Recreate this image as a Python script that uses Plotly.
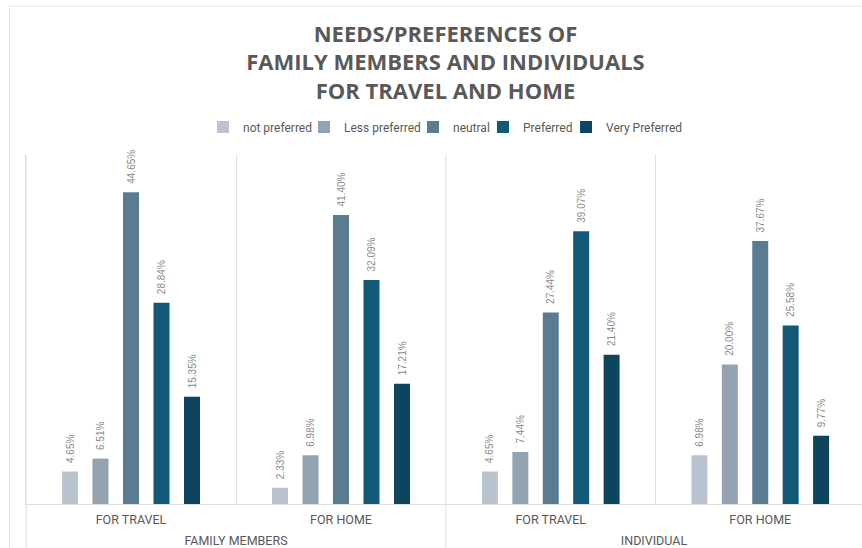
import plotly.graph_objects as go

# Survey results: share of respondents (%) per preference level
groups = ["FAMILY MEMBERS", "INDIVIDUAL"]
contexts = ["FOR TRAVEL", "FOR HOME"]

levels = ["not preferred", "Less preferred", "neutral", "Preferred", "Very Preferred"]
# values per level: [family-travel, family-home, individual-travel, individual-home]
not_preferred = [4.65, 2.33, 4.65, 6.98]
less_preferred = [6.51, 6.98, 7.44, 20.00]
neutral = [44.65, 41.40, 27.44, 37.67]
preferred = [28.84, 32.09, 39.07, 25.58]
very_preferred = [15.35, 17.21, 21.40, 9.77]

series = [not_preferred, less_preferred, neutral, preferred, very_preferred]
colors = ["#b8c4cf", "#94a3b1", "#5a7c91", "#115977", "#0e455e"]
# legend entry widths (px) so the entries sit close together
legend_widths = [56, 64, 25, 38, 80]

# Layout geometry (pixels)
W, H = 862, 548
ML, MR, MT, MB = 26, 0, 155, 44
plot_w = W - ML - MR
plot_h = H - MT - MB
split_px = 446          # boundary between the two groups
unit_left = 210.0       # category slot width, left group
unit_right = 209.5      # category slot width, right group

def px_x(p):
    return (p - ML) / plot_w

def px_y(p):
    return (H - MB - p) / plot_h

split = px_x(split_px)

# value labels sit a little above the bar tops
label_pad = "\u00a0\u00a0"

fig = go.Figure()
axes_ids = ["x", "x2"]
for g, (grp, ax) in enumerate(zip(groups, axes_ids)):
    for name, vals, col, lw in zip(levels, series, colors, legend_widths):
        fig.add_trace(go.Bar(
            name=name,
            x=contexts,
            y=vals[2 * g:2 * g + 2],
            xaxis=ax,
            yaxis="y",
            legendgroup=name,
            showlegend=(g == 0),
            marker=dict(color=col, line=dict(width=0)),
            texttemplate=label_pad + "%{y:.2f}%",
            textposition="outside",
            textangle=-90,
            constraintext="none",
            cliponaxis=False,
            textfont=dict(family="Liberation Sans", size=10, color="#8a8a8a"),
            hoverinfo="skip",
            legendwidth=lw,
        ))

axis_common = dict(
    type="category",
    tickson="boundaries",
    showgrid=True,
    gridcolor="#dedede",
    gridwidth=1,
    showline=True,
    linecolor="#dedede",
    linewidth=1,
    ticks="",
    ticklabelstandoff=4,
    tickfont=dict(family="Roboto", size=12.5, color="#595959"),
    automargin=False,
    fixedrange=True,
)

fig.update_layout(
    template="none",
    width=W,
    height=H,
    margin=dict(l=ML, r=MR, t=MT, b=MB, pad=0),
    paper_bgcolor="white",
    plot_bgcolor="white",
    barmode="group",
    bargap=1 - 152.5 / unit_left,
    bargroupgap=0.475,
    title=dict(
        text="NEEDS/PREFERENCES OF<br>FAMILY MEMBERS AND INDIVIDUALS<br>FOR TRAVEL AND HOME",
        font=dict(family="Open Sans", size=22, color="#595959", weight=700),
        x=px_x(445.5), xref="paper", xanchor="center",
        y=1 - 41.5 / H, yref="container", yanchor="top",
    ),
    legend=dict(
        orientation="h",
        x=px_x(447), xanchor="center",
        y=px_y(127), yanchor="middle",
        font=dict(family="Roboto", size=12, color="#595959"),
        itemwidth=30,
        traceorder="normal",
        bgcolor="rgba(0,0,0,0)",
    ),
    xaxis=dict(
        axis_common,
        domain=[0, split],
        range=[-0.5, -0.5 + (split_px - ML) / unit_left],
        anchor="y",
        title=dict(text=groups[0], standoff=11,
                   font=dict(family="Roboto", size=12.5, color="#595959")),
    ),
    xaxis2=dict(
        axis_common,
        domain=[split, 1],
        range=[-0.5, -0.5 + (W - MR - split_px) / unit_right],
        anchor="y",
        title=dict(text=groups[1], standoff=11,
                   font=dict(family="Roboto", size=12.5, color="#595959")),
    ),
    yaxis=dict(
        range=[0, 50],
        showgrid=False,
        zeroline=False,
        showticklabels=False,
        showline=True,
        linecolor="#dedede",
        linewidth=1,
        ticks="",
        automargin=False,
        fixedrange=True,
    ),
    showlegend=True,
    shapes=[
        # chart frame
        dict(type="rect", xref="paper", yref="paper",
             x0=px_x(9.5), x1=px_x(W + 40), y0=px_y(H + 40), y1=px_y(6),
             line=dict(color="#e4e4e4", width=1), fillcolor="rgba(0,0,0,0)",
             layer="below"),
        # group dividers through the label area
        dict(type="line", xref="paper", yref="paper",
             x0=0, x1=0, y0=1, y1=px_y(H + 10),
             line=dict(color="#dedede", width=1), layer="below"),
        dict(type="line", xref="paper", yref="paper",
             x0=split, x1=split, y0=1, y1=px_y(H + 10),
             line=dict(color="#dedede", width=1), layer="below"),
    ],
)

fig.write_html("out.html")
